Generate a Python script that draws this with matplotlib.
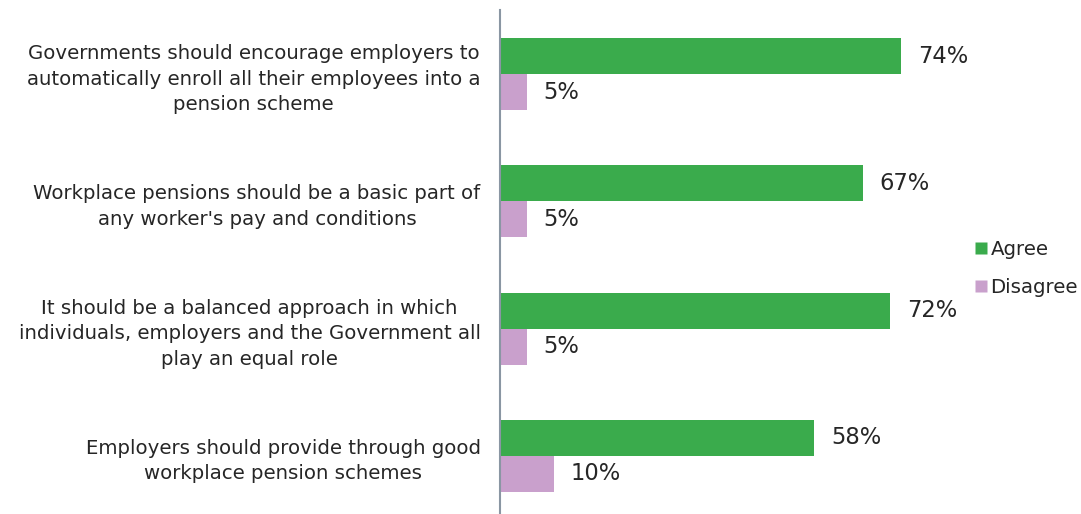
import matplotlib.pyplot as plt
from matplotlib.lines import Line2D

# statements (top to bottom) and shares
statements = [
    "Governments should encourage employers to\nautomatically enroll all their employees into a\npension scheme",
    "Workplace pensions should be a basic part of\nany worker's pay and conditions",
    "It should be a balanced approach in which\nindividuals, employers and the Government all\nplay an equal role",
    "Employers should provide through good\nworkplace pension schemes",
]
agree = [74, 67, 72, 58]
disagree = [5, 5, 5, 10]

green = '#3aab4c'
pink = '#c9a0cc'
txt = '#262626'

fig = plt.figure(figsize=(10.81, 5.14), dpi=100)
ax = fig.add_axes([500 / 1081, 0, 542 / 1081, 504 / 514])

h = 0.283
pos = list(range(len(statements)))
ax.barh([p - h / 2 for p in pos], agree, height=h, color=green)
ax.barh([p + h / 2 for p in pos], disagree, height=h, color=pink)

for p, a, d in zip(pos, agree, disagree):
    ax.annotate(f'{a}%', (a, p - h / 2), xytext=(12, 0), textcoords='offset points',
                va='center', ha='left', fontsize=16.3, color=txt)
    ax.annotate(f'{d}%', (d, p + h / 2), xytext=(12, 0), textcoords='offset points',
                va='center', ha='left', fontsize=16.3, color=txt)

ax.set_xlim(0, 100)
ax.set_ylim(3.457, -0.503)
ax.set_yticks(pos)
ax.set_yticklabels(statements, fontsize=14.2, color=txt, multialignment='center', linespacing=1.42)
ax.tick_params(axis='y', length=0, pad=14)
ax.set_xticks([])
for s in ['top', 'right', 'bottom']:
    ax.spines[s].set_visible(False)
ax.spines['left'].set_color('#8a96a3')
ax.spines['left'].set_linewidth(1.5)

handles = [Line2D([], [], marker='s', color='none', markerfacecolor=green, markeredgecolor='none', markersize=8),
           Line2D([], [], marker='s', color='none', markerfacecolor=pink, markeredgecolor='none', markersize=8)]
fig.legend(handles, ['Agree', 'Disagree'], loc='upper left', bbox_to_anchor=(961 / 1081, 1 - 230 / 514),
           frameon=False, fontsize=14.2, labelspacing=0.95, handlelength=1.0, handletextpad=0.0,
           labelcolor=txt, borderpad=0)

fig.savefig('out.png', dpi=100)
